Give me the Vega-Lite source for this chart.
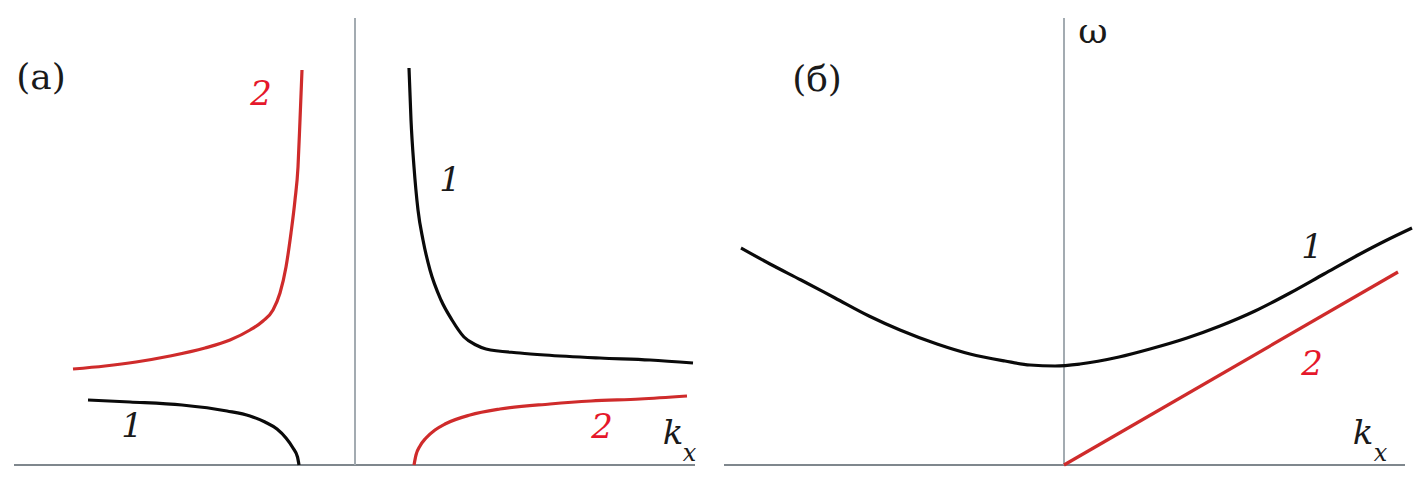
{
  "$schema": "https://vega.github.io/schema/vega-lite/v6.json",
  "padding": 0,
  "spacing": 0,
  "background": "white",
  "config": {"view": {"stroke": null}, "axis": {"disable": true}, "legend": {"disable": true}, "text": {"font": "DejaVu Serif"}},
  "datasets": {
    "curves": [
      {"panel": "a", "branch": "2L", "curve": "2", "k": -2.82, "w": 0.96},
      {"panel": "a", "branch": "2L", "curve": "2", "k": -2.50, "w": 0.99},
      {"panel": "a", "branch": "2L", "curve": "2", "k": -2.19, "w": 1.03},
      {"panel": "a", "branch": "2L", "curve": "2", "k": -1.85, "w": 1.09},
      {"panel": "a", "branch": "2L", "curve": "2", "k": -1.50, "w": 1.17},
      {"panel": "a", "branch": "2L", "curve": "2", "k": -1.25, "w": 1.25},
      {"panel": "a", "branch": "2L", "curve": "2", "k": -1.05, "w": 1.35},
      {"panel": "a", "branch": "2L", "curve": "2", "k": -0.92, "w": 1.44},
      {"panel": "a", "branch": "2L", "curve": "2", "k": -0.82, "w": 1.55},
      {"panel": "a", "branch": "2L", "curve": "2", "k": -0.75, "w": 1.72},
      {"panel": "a", "branch": "2L", "curve": "2", "k": -0.69, "w": 1.98},
      {"panel": "a", "branch": "2L", "curve": "2", "k": -0.64, "w": 2.32},
      {"panel": "a", "branch": "2L", "curve": "2", "k": -0.60, "w": 2.65},
      {"panel": "a", "branch": "2L", "curve": "2", "k": -0.57, "w": 2.98},
      {"panel": "a", "branch": "2L", "curve": "2", "k": -0.55, "w": 3.45},
      {"panel": "a", "branch": "2L", "curve": "2", "k": -0.53, "w": 3.95},
      {"panel": "a", "branch": "1L", "curve": "1", "k": -2.67, "w": 0.65},
      {"panel": "a", "branch": "1L", "curve": "1", "k": -2.25, "w": 0.63},
      {"panel": "a", "branch": "1L", "curve": "1", "k": -1.73, "w": 0.60},
      {"panel": "a", "branch": "1L", "curve": "1", "k": -1.28, "w": 0.54},
      {"panel": "a", "branch": "1L", "curve": "1", "k": -1.05, "w": 0.49},
      {"panel": "a", "branch": "1L", "curve": "1", "k": -0.90, "w": 0.43},
      {"panel": "a", "branch": "1L", "curve": "1", "k": -0.78, "w": 0.36},
      {"panel": "a", "branch": "1L", "curve": "1", "k": -0.69, "w": 0.27},
      {"panel": "a", "branch": "1L", "curve": "1", "k": -0.62, "w": 0.17},
      {"panel": "a", "branch": "1L", "curve": "1", "k": -0.575, "w": 0.08},
      {"panel": "a", "branch": "1L", "curve": "1", "k": -0.56, "w": 0.0},
      {"panel": "a", "branch": "1R", "curve": "1", "k": 0.54, "w": 3.97},
      {"panel": "a", "branch": "1R", "curve": "1", "k": 0.56, "w": 3.45},
      {"panel": "a", "branch": "1R", "curve": "1", "k": 0.59, "w": 2.98},
      {"panel": "a", "branch": "1R", "curve": "1", "k": 0.63, "w": 2.55},
      {"panel": "a", "branch": "1R", "curve": "1", "k": 0.68, "w": 2.25},
      {"panel": "a", "branch": "1R", "curve": "1", "k": 0.75, "w": 1.95},
      {"panel": "a", "branch": "1R", "curve": "1", "k": 0.86, "w": 1.65},
      {"panel": "a", "branch": "1R", "curve": "1", "k": 0.97, "w": 1.45},
      {"panel": "a", "branch": "1R", "curve": "1", "k": 1.09, "w": 1.28},
      {"panel": "a", "branch": "1R", "curve": "1", "k": 1.21, "w": 1.20},
      {"panel": "a", "branch": "1R", "curve": "1", "k": 1.31, "w": 1.16},
      {"panel": "a", "branch": "1R", "curve": "1", "k": 1.65, "w": 1.12},
      {"panel": "a", "branch": "1R", "curve": "1", "k": 1.90, "w": 1.10},
      {"panel": "a", "branch": "1R", "curve": "1", "k": 2.45, "w": 1.07},
      {"panel": "a", "branch": "1R", "curve": "1", "k": 2.95, "w": 1.05},
      {"panel": "a", "branch": "1R", "curve": "1", "k": 3.38, "w": 1.02},
      {"panel": "a", "branch": "2R", "curve": "2", "k": 0.59, "w": 0.0},
      {"panel": "a", "branch": "2R", "curve": "2", "k": 0.61, "w": 0.10},
      {"panel": "a", "branch": "2R", "curve": "2", "k": 0.65, "w": 0.19},
      {"panel": "a", "branch": "2R", "curve": "2", "k": 0.71, "w": 0.27},
      {"panel": "a", "branch": "2R", "curve": "2", "k": 0.80, "w": 0.35},
      {"panel": "a", "branch": "2R", "curve": "2", "k": 0.90, "w": 0.41},
      {"panel": "a", "branch": "2R", "curve": "2", "k": 1.15, "w": 0.50},
      {"panel": "a", "branch": "2R", "curve": "2", "k": 1.45, "w": 0.56},
      {"panel": "a", "branch": "2R", "curve": "2", "k": 1.95, "w": 0.61},
      {"panel": "a", "branch": "2R", "curve": "2", "k": 2.36, "w": 0.64},
      {"panel": "a", "branch": "2R", "curve": "2", "k": 2.85, "w": 0.66},
      {"panel": "a", "branch": "2R", "curve": "2", "k": 3.32, "w": 0.69},
      {"panel": "b", "branch": "1", "curve": "1", "k": -3.23, "w": 2.17},
      {"panel": "b", "branch": "1", "curve": "1", "k": -2.94, "w": 2.01},
      {"panel": "b", "branch": "1", "curve": "1", "k": -2.63, "w": 1.85},
      {"panel": "b", "branch": "1", "curve": "1", "k": -2.29, "w": 1.67},
      {"panel": "b", "branch": "1", "curve": "1", "k": -1.95, "w": 1.49},
      {"panel": "b", "branch": "1", "curve": "1", "k": -1.64, "w": 1.35},
      {"panel": "b", "branch": "1", "curve": "1", "k": -1.27, "w": 1.21},
      {"panel": "b", "branch": "1", "curve": "1", "k": -0.94, "w": 1.11},
      {"panel": "b", "branch": "1", "curve": "1", "k": -0.59, "w": 1.04},
      {"panel": "b", "branch": "1", "curve": "1", "k": -0.34, "w": 1.00},
      {"panel": "b", "branch": "1", "curve": "1", "k": -0.09, "w": 0.99},
      {"panel": "b", "branch": "1", "curve": "1", "k": 0.16, "w": 1.01},
      {"panel": "b", "branch": "1", "curve": "1", "k": 0.55, "w": 1.08},
      {"panel": "b", "branch": "1", "curve": "1", "k": 0.86, "w": 1.16},
      {"panel": "b", "branch": "1", "curve": "1", "k": 1.23, "w": 1.27},
      {"panel": "b", "branch": "1", "curve": "1", "k": 1.56, "w": 1.39},
      {"panel": "b", "branch": "1", "curve": "1", "k": 1.91, "w": 1.54},
      {"panel": "b", "branch": "1", "curve": "1", "k": 2.26, "w": 1.72},
      {"panel": "b", "branch": "1", "curve": "1", "k": 2.60, "w": 1.91},
      {"panel": "b", "branch": "1", "curve": "1", "k": 2.96, "w": 2.11},
      {"panel": "b", "branch": "1", "curve": "1", "k": 3.21, "w": 2.24},
      {"panel": "b", "branch": "1", "curve": "1", "k": 3.48, "w": 2.37},
      {"panel": "b", "branch": "2", "curve": "2", "k": 0.0, "w": 0.0},
      {"panel": "b", "branch": "2", "curve": "2", "k": 3.34, "w": 1.93}
    ],
    "axes": [
      {"panel": "a", "dir": "h", "k": -3.41, "k2": 3.40, "w": 0, "w2": 0},
      {"panel": "a", "dir": "v", "k": 0, "k2": 0, "w": 0, "w2": 4.47},
      {"panel": "b", "dir": "h", "k": -3.40, "k2": 3.41, "w": 0, "w2": 0},
      {"panel": "b", "dir": "v", "k": 0, "k2": 0, "w": 0, "w2": 4.47}
    ],
    "labels": [
      {"panel": "a", "curve": "2", "text": "2", "k": -0.94, "w": 3.70},
      {"panel": "a", "curve": "1", "text": "1", "k": 0.95, "w": 2.84},
      {"panel": "a", "curve": "1", "text": "1", "k": -2.23, "w": 0.38},
      {"panel": "a", "curve": "2", "text": "2", "k": 2.47, "w": 0.37},
      {"panel": "b", "curve": "1", "text": "1", "k": 2.48, "w": 2.17},
      {"panel": "b", "curve": "2", "text": "2", "k": 2.48, "w": 1.00}
    ],
    "axislabels": [
      {"panel": "a", "text": "k", "k": 3.18, "w": 0.31},
      {"panel": "b", "text": "k", "k": 2.99, "w": 0.31}
    ],
    "subs": [
      {"panel": "a", "text": "x", "k": 3.345, "w": 0.11},
      {"panel": "b", "text": "x", "k": 3.165, "w": 0.11}
    ],
    "upright": [
      {"panel": "a", "text": "(a)", "k": -3.14, "w": 3.87},
      {"panel": "b", "text": "(б)", "k": -2.47, "w": 3.85},
      {"panel": "b", "text": "ω", "k": 0.29, "w": 4.33}
    ]
  },
  "hconcat": [
    {
      "width": 709,
      "height": 483,
      "layer": [
        {
          "data": {"name": "axes"},
          "transform": [{"filter": "datum.panel === 'a' && datum.dir === 'h'"}],
          "mark": {"type": "rule", "strokeWidth": 2, "color": "#7f878d"},
          "encoding": {
            "x": {"field": "k", "type": "quantitative", "scale": {"domain": [-3.55, 3.54], "nice": false, "zero": false}},
            "x2": {"field": "k2"},
            "y": {"field": "w", "type": "quantitative", "scale": {"domain": [-0.18, 4.65], "nice": false, "zero": false}},
            "y2": {"field": "w2"}
          }
        },
        {
          "data": {"name": "axes"},
          "transform": [{"filter": "datum.panel === 'a' && datum.dir === 'v'"}],
          "mark": {"type": "rule", "strokeWidth": 2, "color": "#a3abb1"},
          "encoding": {
            "x": {"field": "k", "type": "quantitative"},
            "x2": {"field": "k2"},
            "y": {"field": "w", "type": "quantitative"},
            "y2": {"field": "w2"}
          }
        },
        {
          "data": {"name": "curves"},
          "transform": [{"filter": "datum.panel === 'a' && datum.curve === '1'"}],
          "mark": {"type": "line", "interpolate": "monotone", "strokeWidth": 3.2, "color": "#0a0a0a"},
          "encoding": {
            "x": {"field": "k", "type": "quantitative"},
            "y": {"field": "w", "type": "quantitative"},
            "detail": {"field": "branch"}
          }
        },
        {
          "data": {"name": "curves"},
          "transform": [{"filter": "datum.panel === 'a' && datum.curve === '2'"}],
          "mark": {"type": "line", "interpolate": "monotone", "strokeWidth": 3.2, "color": "#cf2b2b"},
          "encoding": {
            "x": {"field": "k", "type": "quantitative"},
            "y": {"field": "w", "type": "quantitative"},
            "detail": {"field": "branch"}
          }
        },
        {
          "data": {"name": "labels"},
          "transform": [{"filter": "datum.panel === 'a' && datum.curve === '1'"}],
          "mark": {"type": "text", "font": "DejaVu Serif", "fontStyle": "italic", "fontSize": 34, "align": "center", "baseline": "middle", "color": "#1a1a1a"},
          "encoding": {
            "x": {"field": "k", "type": "quantitative"},
            "y": {"field": "w", "type": "quantitative"},
            "text": {"field": "text"}
          }
        },
        {
          "data": {"name": "labels"},
          "transform": [{"filter": "datum.panel === 'a' && datum.curve === '2'"}],
          "mark": {"type": "text", "font": "DejaVu Serif", "fontStyle": "italic", "fontSize": 34, "align": "center", "baseline": "middle", "color": "#e5182b"},
          "encoding": {
            "x": {"field": "k", "type": "quantitative"},
            "y": {"field": "w", "type": "quantitative"},
            "text": {"field": "text"}
          }
        },
        {
          "data": {"name": "axislabels"},
          "transform": [{"filter": "datum.panel === 'a'"}],
          "mark": {"type": "text", "font": "DejaVu Serif", "fontStyle": "italic", "fontSize": 34, "align": "center", "baseline": "middle", "color": "#1a1a1a"},
          "encoding": {
            "x": {"field": "k", "type": "quantitative"},
            "y": {"field": "w", "type": "quantitative"},
            "text": {"field": "text"}
          }
        },
        {
          "data": {"name": "subs"},
          "transform": [{"filter": "datum.panel === 'a'"}],
          "mark": {"type": "text", "font": "DejaVu Serif", "fontStyle": "italic", "fontSize": 24, "align": "center", "baseline": "middle", "color": "#1a1a1a"},
          "encoding": {
            "x": {"field": "k", "type": "quantitative"},
            "y": {"field": "w", "type": "quantitative"},
            "text": {"field": "text"}
          }
        },
        {
          "data": {"name": "upright"},
          "transform": [{"filter": "datum.panel === 'a'"}],
          "mark": {"type": "text", "font": "DejaVu Serif", "fontSize": 36, "align": "center", "baseline": "middle", "color": "#1a1a1a"},
          "encoding": {
            "x": {"field": "k", "type": "quantitative"},
            "y": {"field": "w", "type": "quantitative"},
            "text": {"field": "text"}
          }
        }
      ]
    },
    {
      "width": 710,
      "height": 483,
      "layer": [
        {
          "data": {"name": "axes"},
          "transform": [{"filter": "datum.panel === 'b' && datum.dir === 'h'"}],
          "mark": {"type": "rule", "strokeWidth": 2, "color": "#7f878d"},
          "encoding": {
            "x": {"field": "k", "type": "quantitative", "scale": {"domain": [-3.55, 3.55], "nice": false, "zero": false}},
            "x2": {"field": "k2"},
            "y": {"field": "w", "type": "quantitative", "scale": {"domain": [-0.18, 4.65], "nice": false, "zero": false}},
            "y2": {"field": "w2"}
          }
        },
        {
          "data": {"name": "axes"},
          "transform": [{"filter": "datum.panel === 'b' && datum.dir === 'v'"}],
          "mark": {"type": "rule", "strokeWidth": 2, "color": "#a3abb1"},
          "encoding": {
            "x": {"field": "k", "type": "quantitative"},
            "x2": {"field": "k2"},
            "y": {"field": "w", "type": "quantitative"},
            "y2": {"field": "w2"}
          }
        },
        {
          "data": {"name": "curves"},
          "transform": [{"filter": "datum.panel === 'b' && datum.curve === '1'"}],
          "mark": {"type": "line", "interpolate": "monotone", "strokeWidth": 3.2, "color": "#0a0a0a"},
          "encoding": {
            "x": {"field": "k", "type": "quantitative"},
            "y": {"field": "w", "type": "quantitative"},
            "detail": {"field": "branch"}
          }
        },
        {
          "data": {"name": "curves"},
          "transform": [{"filter": "datum.panel === 'b' && datum.curve === '2'"}],
          "mark": {"type": "line", "strokeWidth": 3.2, "color": "#cf2b2b"},
          "encoding": {
            "x": {"field": "k", "type": "quantitative"},
            "y": {"field": "w", "type": "quantitative"},
            "detail": {"field": "branch"}
          }
        },
        {
          "data": {"name": "labels"},
          "transform": [{"filter": "datum.panel === 'b' && datum.curve === '1'"}],
          "mark": {"type": "text", "font": "DejaVu Serif", "fontStyle": "italic", "fontSize": 34, "align": "center", "baseline": "middle", "color": "#1a1a1a"},
          "encoding": {
            "x": {"field": "k", "type": "quantitative"},
            "y": {"field": "w", "type": "quantitative"},
            "text": {"field": "text"}
          }
        },
        {
          "data": {"name": "labels"},
          "transform": [{"filter": "datum.panel === 'b' && datum.curve === '2'"}],
          "mark": {"type": "text", "font": "DejaVu Serif", "fontStyle": "italic", "fontSize": 34, "align": "center", "baseline": "middle", "color": "#e5182b"},
          "encoding": {
            "x": {"field": "k", "type": "quantitative"},
            "y": {"field": "w", "type": "quantitative"},
            "text": {"field": "text"}
          }
        },
        {
          "data": {"name": "axislabels"},
          "transform": [{"filter": "datum.panel === 'b'"}],
          "mark": {"type": "text", "font": "DejaVu Serif", "fontStyle": "italic", "fontSize": 34, "align": "center", "baseline": "middle", "color": "#1a1a1a"},
          "encoding": {
            "x": {"field": "k", "type": "quantitative"},
            "y": {"field": "w", "type": "quantitative"},
            "text": {"field": "text"}
          }
        },
        {
          "data": {"name": "subs"},
          "transform": [{"filter": "datum.panel === 'b'"}],
          "mark": {"type": "text", "font": "DejaVu Serif", "fontStyle": "italic", "fontSize": 24, "align": "center", "baseline": "middle", "color": "#1a1a1a"},
          "encoding": {
            "x": {"field": "k", "type": "quantitative"},
            "y": {"field": "w", "type": "quantitative"},
            "text": {"field": "text"}
          }
        },
        {
          "data": {"name": "upright"},
          "transform": [{"filter": "datum.panel === 'b'"}],
          "mark": {"type": "text", "font": "DejaVu Serif", "fontSize": 36, "align": "center", "baseline": "middle", "color": "#1a1a1a"},
          "encoding": {
            "x": {"field": "k", "type": "quantitative"},
            "y": {"field": "w", "type": "quantitative"},
            "text": {"field": "text"}
          }
        }
      ]
    }
  ]
}
